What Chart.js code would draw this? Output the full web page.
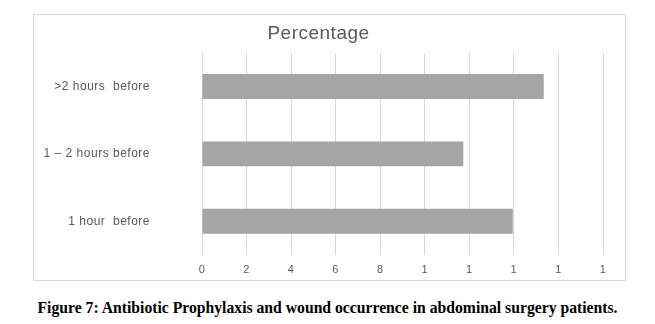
<!DOCTYPE html>
<html>
<head>
<meta charset="utf-8">
<script src="https://cdn.jsdelivr.net/npm/chart.js@4/dist/chart.umd.min.js"></script>
<style>
  html, body { margin: 0; padding: 0; background: #fff; }
  body { width: 655px; height: 324px; position: relative; overflow: hidden; }
  #box { position: absolute; left: 33px; top: 14px; width: 591px; height: 265px; border: 1px solid #d9d9d9; }
  #caption { position: absolute; left: 0; top: 299px; width: 655px; text-align: center;
    font-family: "Liberation Serif", serif; font-weight: bold; font-size: 15.7px; color: #000; }
</style>
</head>
<body>
<div id="box"><canvas id="chart"></canvas></div>
<div id="caption">Figure 7: Antibiotic Prophylaxis and wound occurrence in abdominal surgery patients.</div>
<script>
const categories = [">2 hours  before", "1 \u2013 2 hours before", "1 hour  before"];
const percentages = [15.34, 11.73, 13.95];
const xTickLabels = ["0", "2", "4", "6", "8", "1", "1", "1", "1", "1"];

// the original text looks a bit stretched, so space the letters out a little
const widenText = {
  id: "widenText",
  beforeLayout: (chart) => { chart.ctx.letterSpacing = "0.5px"; },
  beforeDraw: (chart) => { chart.ctx.letterSpacing = "0.5px"; },
};

const ctx = document.getElementById("chart").getContext("2d");

new Chart(ctx, {
  type: "bar",
  data: {
    labels: categories,
    datasets: [
      {
        label: "Percentage",
        data: percentages,
        backgroundColor: "#a5a5a5",
        borderWidth: 0,
        barPercentage: 0.37,
        categoryPercentage: 1,
      },
    ],
  },
  options: {
    indexAxis: "y",
    responsive: true,
    maintainAspectRatio: false,
    animation: false,
    layout: { padding: { top: 0, right: 22, bottom: 0, left: 0 } },
    plugins: {
      legend: { display: false },
      tooltip: { enabled: false },
      title: {
        display: true,
        text: "Percentage",
        color: "#595959",
        font: { family: "Liberation Sans, Arial", size: 19, weight: "normal" },
        padding: { top: 7, bottom: 8 },
      },
    },
    scales: {
      x: {
        min: 0,
        max: 18,
        ticks: {
          stepSize: 2,
          color: "#595959",
          font: { family: "Liberation Sans, Arial", size: 11 },
          padding: 8,
          callback: (value, index) => xTickLabels[index],
        },
        grid: { color: "#d9d9d9", drawTicks: false },
        border: { display: false },
        afterFit: (scale) => { scale.height = 25; },
      },
      y: {
        ticks: {
          color: "#595959",
          font: { family: "Liberation Sans, Arial", size: 12 },
          padding: 0,
        },
        grid: { display: false, drawTicks: true, tickLength: 52 },
        border: { display: false },
        afterFit: (scale) => { scale.width = 168; },
      },
    },
  },
  plugins: [widenText],
});
</script>
</body>
</html>
